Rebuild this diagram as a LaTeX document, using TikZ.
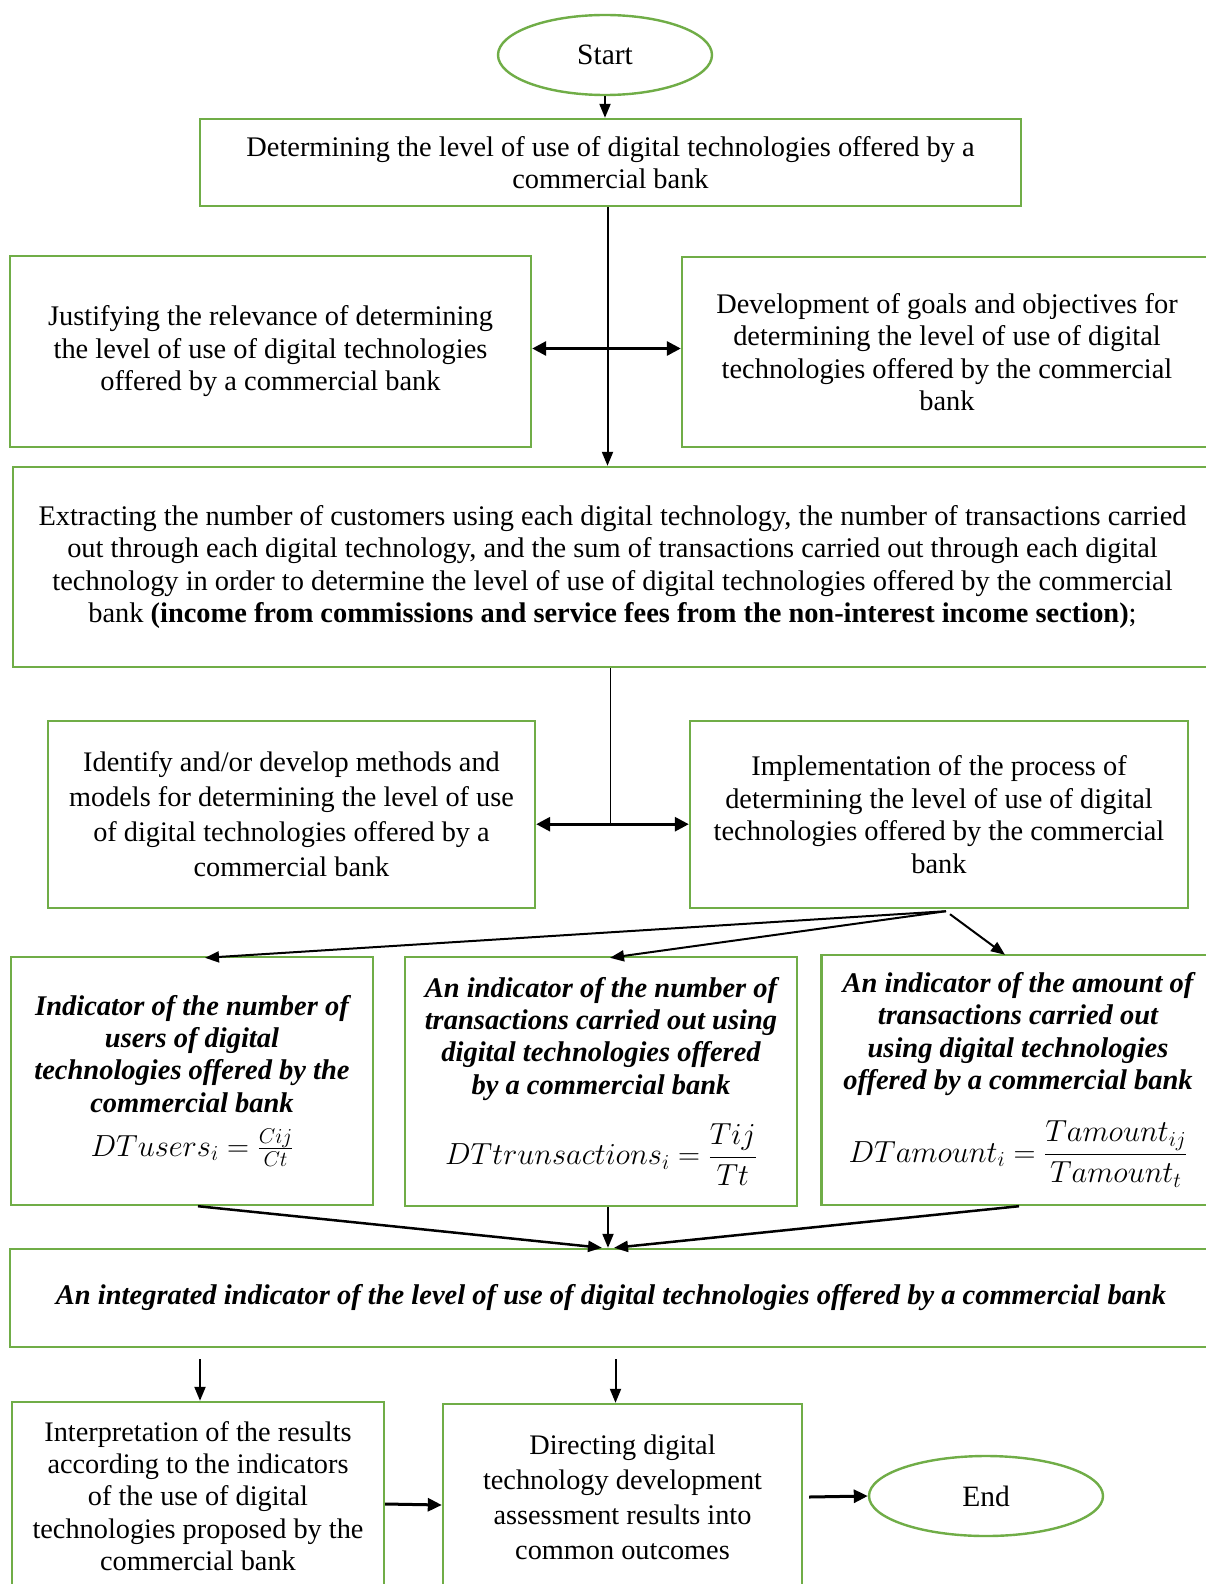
\RequirePackage{fix-cm}
\documentclass[tikz,border=0pt]{standalone}
\usepackage{amsmath}
\usepackage{fontspec}
\setmainfont{Liberation Serif}
\usetikzlibrary{shapes.geometric,arrows.meta,calc}
\definecolor{bgreen}{RGB}{112,173,71}
\begin{document}
\begin{tikzpicture}[x=1pt,y=-1pt,
  box/.style={draw=bgreen,line width=2.4pt,rectangle,inner sep=0pt,align=center,font=\fontsize{28.4}{32.5}\selectfont},
  boxb/.style={box,font=\fontsize{28.3}{35}\selectfont},
  ind/.style={box,font=\fontsize{28.5}{32.3}\selectfont\bfseries\itshape},
  oval/.style={draw=bgreen,line width=2.4pt,ellipse,inner sep=0pt,font=\fontsize{29.5}{34}\selectfont},
  arr/.style={draw=black,line width=2pt,-{Triangle[length=14pt,width=11pt]}},
  arrt/.style={draw=black,line width=3pt,-{Triangle[length=14pt,width=13pt]}},
  dbl/.style={draw=black,line width=3pt,{Triangle[length=14pt,width=14pt]}-{Triangle[length=14pt,width=14pt]}},
  thin/.style={draw=black,line width=1pt}
]
\useasboundingbox (0,0) rectangle (1206,1584);
\fill[white] (0,0) rectangle (1206,1584);
\clip (0,0) rectangle (1206,1584);

\node[oval,minimum width=214pt,minimum height=80pt] (start) at (605,55) {Start};
\node[box,minimum width=821pt,minimum height=87pt] (b1) at (610.5,162.5)
  {Determining the level of use of digital technologies offered by a\\commercial bank};
\node[box,minimum width=521pt,minimum height=191pt] (just) at (270.5,351.5)
  {Justifying the relevance of determining\\the level of use of digital technologies\\offered by a commercial bank};
\node[box,minimum width=530pt,minimum height=190pt] (dev) at (947,352)
  {Development of goals and objectives for\\determining the level of use of digital\\technologies offered by the commercial\\bank};
\node[box,minimum width=1199pt,minimum height=200pt] (ext) at (612.5,567)
  {Extracting the number of customers using each digital technology, the number of transactions carried\\
   out through each digital technology, and the sum of transactions carried out through each digital\\
   technology in order to determine the level of use of digital technologies offered by the commercial\\
   bank \textbf{(income from commissions and service fees from the non-interest income section)};};
\node[boxb,minimum width=487pt,minimum height=187pt] (ident) at (291.5,814.5)
  {Identify and/or develop methods and\\models for determining the level of use\\of digital technologies offered by a\\commercial bank};
\node[box,minimum width=498pt,minimum height=187pt] (impl) at (939,814.5)
  {Implementation of the process of\\determining the level of use of digital\\technologies offered by the commercial\\bank};

\node[ind,minimum width=362pt,minimum height=248pt] (inda) at (192,1081)
  {Indicator of the number of\\users of digital\\technologies offered by the\\commercial bank\\[12pt]
   {\fontsize{30.5}{34}\selectfont\mdseries\upshape $DTusers_i=\frac{Cij}{Ct}$}};
\node[ind,minimum width=392pt,minimum height=249pt] (indb) at (601,1081.5)
  {An indicator of the number of\\transactions carried out using\\digital technologies offered\\by a commercial bank\\[22pt]
   {\fontsize{30.5}{34}\selectfont\mdseries\upshape $DTtrunsactions_i=\dfrac{Tij}{Tt}$}};
\node[ind,minimum width=393pt,minimum height=250pt] (indc) at (1018,1080)
  {An indicator of the amount of\\transactions carried out\\using digital technologies\\offered by a commercial bank\\[24pt]
   {\fontsize{30.5}{34}\selectfont\mdseries\upshape $DTamount_i=\dfrac{Tamount_{ij}}{Tamount_t}$}};

\node[ind,minimum width=1202pt,minimum height=98pt] (integ) at (611,1298)
  {An integrated indicator of the level of use of digital technologies offered by a commercial bank};

\node[box,font=\fontsize{28.3}{32.3}\selectfont,minimum width=372pt,minimum height=188pt] (interp) at (198,1496)
  {Interpretation of the results\\according to the indicators\\of the use of digital\\technologies proposed by the\\commercial bank};
\node[boxb,minimum width=359pt,minimum height=186pt] (dir) at (622.5,1497)
  {Directing digital\\technology development\\assessment results into\\common outcomes};
\node[oval,minimum width=234pt,minimum height=80pt] (end) at (986,1496) {End};

% connectors
\draw[arr] (start.south) -- (start.south |- b1.north);
\draw[arr] ([xshift=-3pt]b1.south) -- ([xshift=-3pt]b1.south |- ext.north);
\draw[dbl] ([yshift=3pt]just.east) -- ([yshift=3pt]just.east -| dev.west);
\coordinate (j2) at ($(ext.south)+(-2,156)$);
\draw[thin] ([xshift=-2pt]ext.south) -- (j2);
\draw[dbl] (ident.east |- j2) -- (impl.west |- j2);

\coordinate (fan) at ($(impl.south)+(7,2)$);
\draw[arr] (fan) -- ([xshift=13pt,yshift=-2pt]inda.north);
\draw[arr] (fan) -- ([xshift=9pt,yshift=-2pt]indb.north);
\draw[arr] ($(fan)+(4,3)$) -- ([xshift=-13pt,yshift=-1pt]indc.north);

\draw[arr,line width=2.5pt] ([xshift=6pt]inda.south) -- ([xshift=-9pt]integ.north);
\draw[arr] ([xshift=7pt]indb.south) -- ([xshift=-3pt]integ.north);
\draw[arr,line width=2.5pt] ([xshift=1pt]indc.south) -- ([xshift=3pt]integ.north);

\draw[arr] ($(interp.north |- integ.south)+(2,11)$) -- ([xshift=2pt]interp.north);
\draw[arr] ($(dir.north |- integ.south)+(-7,11)$) -- ([xshift=-7pt]dir.north);
\draw[arrt] ($(interp.east)+(0,8)$) -- ($(dir.west)+(0,8)$);
\draw[arrt] ($(dir.east)+(6,0)$) -- (end.west);
\end{tikzpicture}
\end{document}
